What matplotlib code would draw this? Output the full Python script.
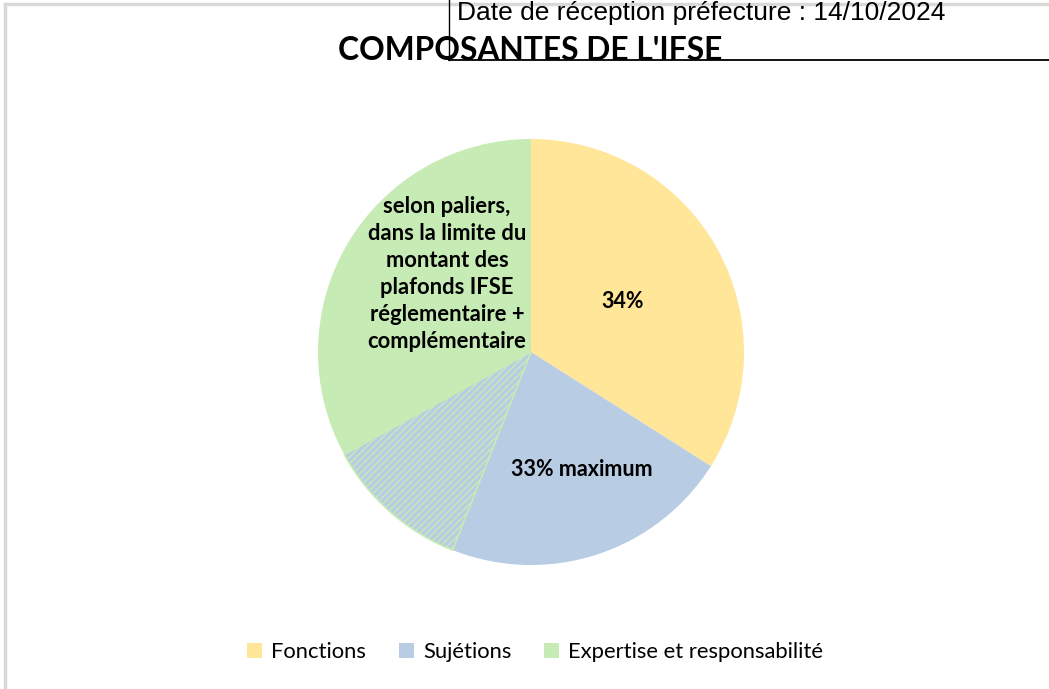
import matplotlib
matplotlib.use("Agg")
import matplotlib.pyplot as plt
from matplotlib.patches import Patch
from matplotlib.lines import Line2D

# Data
slices = ["Fonctions", "Sujétions", "Sujétions (hachuré)", "Expertise et responsabilité"]
values = [34, 22, 11, 33]
colors = ["#FFE699", "#B8CCE4", "#B8CCE4", "#C6EBB5"]
legend_labels = ["Fonctions", "Sujétions", "Expertise et responsabilité"]
legend_colors = ["#FFE699", "#B8CCE4", "#C6EBB5"]
title = "COMPOSANTES DE L'IFSE"
stamp = "Date de réception préfecture : 14/10/2024"
label_fonctions = "34%"
label_sujetions = "33% maximum"
label_expertise = ("selon paliers,\ndans la limite du\nmontant des\nplafonds IFSE\n"
                   "réglementaire +\ncomplémentaire")

W, H = 1049, 689
fig = plt.figure(figsize=(W / 100, H / 100), dpi=100)
fig.patch.set_facecolor("white")

# pie axes: center (531,352), radius 213 px
cx, cy, r = 531, 352, 213
ax = fig.add_axes([(cx - r) / W, 1 - (cy + r) / H, 2 * r / W, 2 * r / H])
wedges, _ = ax.pie(values, colors=colors, startangle=90, counterclock=False,
                   radius=1.0, wedgeprops=dict(linewidth=0))
ax.set_xlim(-1, 1)
ax.set_ylim(-1, 1)
ax.set_aspect("equal")
ax.axis("off")

hw = wedges[2]
hw.set_edgecolor("#C6EBB5")
hw.set_hatch("/////")
hw.set_linewidth(1.2)

font = ["Lato", "DejaVu Sans"]

def fx(px):
    return (px - cx) / r

def fy(py):
    return (cy - py) / r

ax.text(fx(623), fy(301), label_fonctions, ha="center", va="center",
        fontsize=15.5, fontweight="bold", family=font)
ax.text(fx(582), fy(469), label_sujetions, ha="center", va="center",
        fontsize=15.5, fontweight="bold", family=font)
ax.text(fx(447), fy(274), label_expertise, ha="center", va="center",
        fontsize=15.8, fontweight="bold", family=font, linespacing=1.36)

# Title
fig.text(530 / W, 1 - 51 / H, title, ha="center", va="center",
         fontsize=22.9, fontweight="bold", family=font)

# Legend
handles = [Patch(facecolor=c, edgecolor="none") for c in legend_colors]
fig.legend(handles, legend_labels, loc="center", bbox_to_anchor=(535 / W, 1 - 652 / H),
           ncol=3, frameon=False, prop=dict(family=font, size=15.8),
           handlelength=0.7, handleheight=0.7, handletextpad=0.4, columnspacing=1.5)

# Chart border (light gray)
fig.add_artist(Line2D([5 / W, 5 / W], [0, 1 - 4 / H], transform=fig.transFigure,
                      color="#D9D9D9", linewidth=2.5))
fig.add_artist(Line2D([5 / W, 1], [1 - 4 / H, 1 - 4 / H], transform=fig.transFigure,
                      color="#D9D9D9", linewidth=2.5))

# Stamp overlay
fig.add_artist(Line2D([449 / W, 449 / W], [1 - 60 / H, 1], transform=fig.transFigure,
                      color="black", linewidth=1.0))
fig.add_artist(Line2D([449 / W, 1], [1 - 60 / H, 1 - 60 / H], transform=fig.transFigure,
                      color="black", linewidth=1.3))
fig.text(457 / W, 1 - 13 / H, stamp, ha="left", va="center", fontsize=19,
         family=["Liberation Sans", "DejaVu Sans"])

fig.savefig("out.png", dpi=100, facecolor="white")
